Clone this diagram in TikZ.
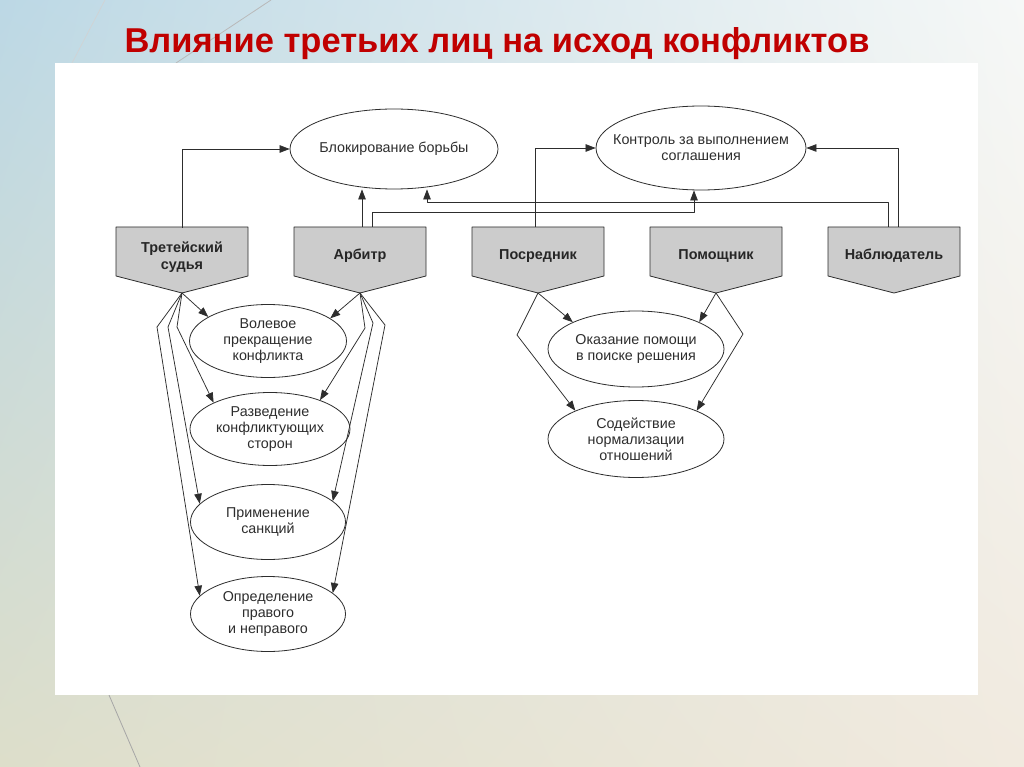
\documentclass[tikz,border=0pt]{standalone}
\usepackage{fontspec}
\setmainfont{Liberation Sans}
\usetikzlibrary{arrows.meta,shapes.geometric,shadings}

\definecolor{titlered}{RGB}{192,0,0}
\definecolor{boxgray}{RGB}{204,204,204}
\definecolor{inkgray}{RGB}{45,45,45}
\definecolor{bgUL}{RGB}{188,216,229}
\definecolor{bgUR}{RGB}{246,248,247}
\definecolor{bgLL}{RGB}{221,222,202}
\definecolor{bgLR}{RGB}{241,234,223}

\tikzset{
  oval/.style={ellipse,draw=inkgray,line width=0.8pt,inner xsep=-30pt,inner ysep=0pt,
    align=center,text=inkgray,font=\fontsize{14.3}{16}\selectfont},
  ptbox/.style={draw=inkgray,line width=0.8pt,fill=boxgray},
  boxtext/.style={minimum width=132pt,minimum height=58pt,inner sep=0pt,align=center,
    text=black!85,font=\bfseries\fontsize{14.4}{17}\selectfont},
  link/.style={->,draw=inkgray,line width=0.75pt}
}

\begin{document}
\begin{tikzpicture}[line cap=round,line join=round,>={Triangle[length=10pt,width=7.5pt]},x=1pt,y=-1pt]
\useasboundingbox (0,0) rectangle (1024,767);

\shade[upper left=bgUL,upper right=bgUR,lower left=bgLL,lower right=bgLR] (0,0) rectangle (1024,767);
\draw[gray!55,line width=0.8pt] (271,0) -- (176,63);
\draw[gray!35,line width=0.6pt] (105,0) -- (72,63);
\draw[gray!70,line width=0.8pt] (109,695) -- (140,767);
\fill[white] (55,63) rectangle (978,695);

\node[anchor=base,text=titlered,font=\bfseries\fontsize{34.5}{40}\selectfont] (title) at (497,53) {Влияние третьих лиц на исход конфликтов};

% upper ovals
\node[oval,minimum width=208pt,minimum height=80pt] (blk) at (394,149) {Блокирование борьбы};
\node[oval,minimum width=210pt,minimum height=84pt] (ctl) at (701,148) {Контроль за выполнением\\соглашения};

% third parties
\draw[ptbox] (116,227) -- (248,227) -- (248,276) -- (182,293) coordinate (tsTip) -- (116,276) -- cycle
  (182,257) node[boxtext] (ts) {Третейский\\судья};
\draw[ptbox] (294,227) -- (426,227) -- (426,276) -- (360,293) coordinate (arbTip) -- (294,276) -- cycle
  (360,256) node[boxtext] (arb) {Арбитр};
\draw[ptbox] (472,227) -- (604,227) -- (604,276) -- (538,293) coordinate (posTip) -- (472,276) -- cycle
  (538,256) node[boxtext] (pos) {Посредник};
\draw[ptbox] (650,227) -- (782,227) -- (782,276) -- (716,293) coordinate (pomTip) -- (650,276) -- cycle
  (716,256) node[boxtext] (pom) {Помощник};
\draw[ptbox] (828,227) -- (960,227) -- (960,276) -- (894,293) coordinate (nabTip) -- (828,276) -- cycle
  (894,256) node[boxtext] (nab) {Наблюдатель};

% lower ovals
\node[oval,minimum width=157pt,minimum height=73pt] (vol) at (268,341) {Волевое\\прекращение\\конфликта};
\node[oval,minimum width=160pt,minimum height=73pt] (razv) at (270,429) {Разведение\\конфликтующих\\сторон};
\node[oval,minimum width=155pt,minimum height=75pt] (prim) at (268,522) {Применение\\санкций};
\node[oval,minimum width=155pt,minimum height=75pt] (opr) at (268,614) {Определение\\правого\\и неправого};
\node[oval,minimum width=176pt,minimum height=76pt] (oka) at (636,349) {Оказание помощи\\в поиске решения};
\node[oval,minimum width=176pt,minimum height=77pt] (sod) at (636,439) {Содействие\\нормализации\\отношений};

% upward links
\draw[link] (ts.north) |- (blk.west);
\draw[link] ([xshift=2pt]arb.north) -- ([xshift=2pt]arb.north |- blk.south);
\draw[link] ([xshift=12pt]arb.north) -- ++(0,-14) -| ([xshift=-7pt]ctl.south);
\draw[link] ([xshift=-6pt]nab.north) -- ++(0,-24) -| ([xshift=33pt]blk.south);
\draw[link] ([xshift=-3pt]pos.north) |- (ctl.west);
\draw[link] ([xshift=4pt]nab.north) |- (ctl.east);

% downward links
\draw[link] (tsTip) -- (vol.158);
\draw[link] (tsTip) -- ++(-5,34) -- (razv.155);
\draw[link] (tsTip) -- ++(-14,34) -- (prim.165);
\draw[link] (tsTip) -- ++(-25,34) -- (opr.165);
\draw[link] (arbTip) -- (vol.20);
\draw[link] (arbTip) -- ++(5,35) -- (razv.30);
\draw[link] (arbTip) -- ++(13,30) -- (prim.18);
\draw[link] (arbTip) -- ++(25,32) -- (opr.18);
\draw[link] (posTip) -- (oka.157);
\draw[link] (posTip) -- ++(-21,42) -- (sod.155);
\draw[link] (pomTip) -- (oka.23);
\draw[link] (pomTip) -- ++(27,41) -- (sod.25);
\end{tikzpicture}
\end{document}
